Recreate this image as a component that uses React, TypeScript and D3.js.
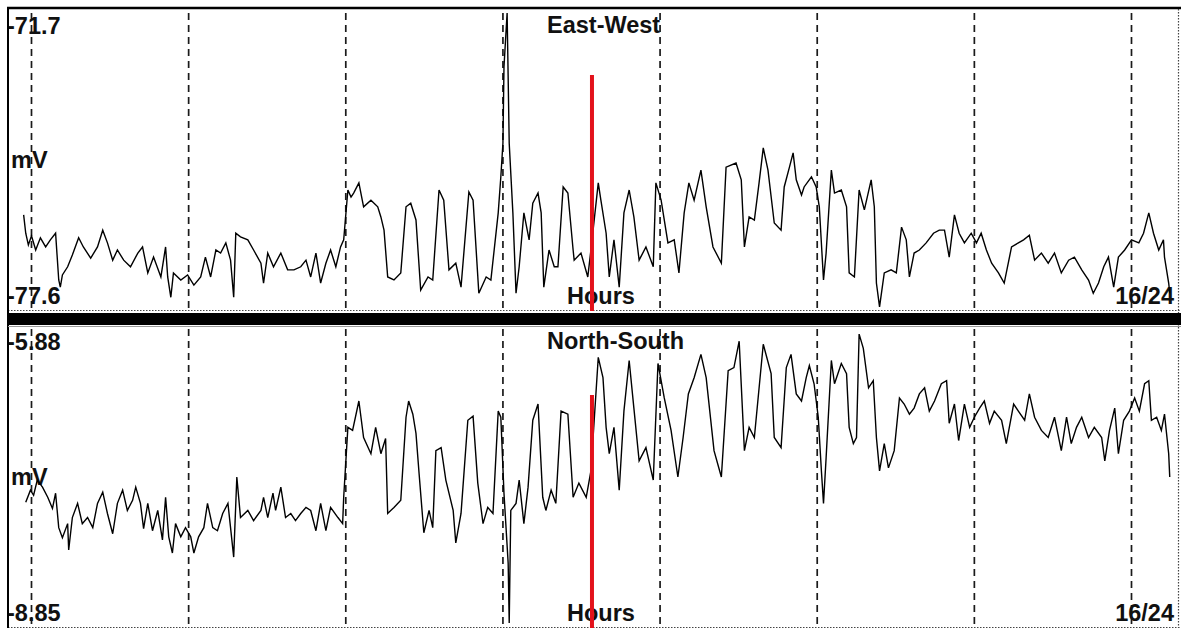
import React from 'react';
import * as d3 from 'd3';

// shared x axis (hours from the first grid line)
const gridHours = [0, 3, 6, 9, 12, 15, 18, 21];
const hourDomain = [0, 21];
const markerHour = 10.7;
const xLabel = 'Hours';
const dayLabel = '16/24';
const unitLabel = 'mV';

// East-West channel
const ewTitle = 'East-West';
const ewScale = [-77.6, -71.7];
const ewMarkerTop = -72.98;
const ewHours = [
  -0.15, -0.11, -0.06, 0, 0.08, 0.17, 0.27, 0.36, 0.46, 0.52, 0.55, 0.59, 0.69, 0.78, 0.9, 0.99, 1.13, 1.26, 1.36, 1.45,
  1.55, 1.64, 1.76, 1.89, 2.03, 2.12, 2.22, 2.33, 2.47, 2.56, 2.6, 2.66, 2.71, 2.85, 2.98, 3.1, 3.23, 3.32, 3.42, 3.52,
  3.61, 3.71, 3.8, 3.86, 3.9, 3.99, 4.13, 4.24, 4.38, 4.43, 4.51, 4.62, 4.76, 4.89, 5.01, 5.14, 5.24, 5.33, 5.43, 5.52,
  5.62, 5.71, 5.81, 5.9, 5.96, 6.04, 6.1, 6.15, 6.25, 6.34, 6.48, 6.61, 6.67, 6.73, 6.8, 6.92, 7.05, 7.15, 7.24, 7.34,
  7.43, 7.57, 7.66, 7.78, 7.87, 7.97, 8.1, 8.2, 8.35, 8.43, 8.54, 8.68, 8.77, 8.91, 8.96, 9.0, 9.02, 9.08, 9.12, 9.19,
  9.25, 9.31, 9.4, 9.5, 9.57, 9.67, 9.73, 9.78, 9.88, 9.98, 10.05, 10.15, 10.24, 10.34, 10.36, 10.49, 10.62, 10.68, 10.82, 10.87,
  10.97, 11.03, 11.12, 11.22, 11.31, 11.41, 11.5, 11.6, 11.73, 11.87, 11.92, 12.02, 12.15, 12.27, 12.36, 12.46, 12.55, 12.65, 12.78, 12.88,
  13.01, 13.17, 13.26, 13.45, 13.55, 13.61, 13.7, 13.8, 13.89, 13.97, 14.06, 14.18, 14.31, 14.37, 14.47, 14.54, 14.6, 14.7, 14.75, 14.89,
  14.98, 15.04, 15.12, 15.17, 15.27, 15.33, 15.46, 15.56, 15.61, 15.71, 15.8, 15.9, 16.03, 16.09, 16.13, 16.19, 16.28, 16.41, 16.51, 16.61,
  16.7, 16.76, 16.85, 16.95, 17.08, 17.22, 17.33, 17.43, 17.52, 17.62, 17.71, 17.81, 17.94, 18.04, 18.13, 18.23, 18.33, 18.46, 18.57, 18.71,
  18.84, 18.94, 19.05, 19.15, 19.28, 19.41, 19.53, 19.66, 19.8, 19.91, 20.05, 20.18, 20.27, 20.37, 20.47, 20.56, 20.66, 20.75, 20.87, 21.0,
  21.14, 21.23, 21.33, 21.42, 21.52, 21.61, 21.63, 21.71, 21.73,
];
const ewMv = [
  -75.73, -76.09, -76.32, -76.14, -76.42, -76.18, -76.36, -76.22, -76.09, -77.01, -77.15, -76.91, -76.75, -76.52, -76.18, -76.36, -76.58, -76.36, -76.03, -76.28,
  -76.62, -76.42, -76.62, -76.75, -76.48, -76.36, -76.87, -76.56, -76.95, -76.36, -76.95, -77.35, -76.87, -77.01, -76.91, -77.11, -76.95, -76.56, -76.95, -76.42,
  -76.48, -76.28, -76.62, -77.35, -76.09, -76.16, -76.22, -76.42, -76.68, -77.07, -76.48, -76.75, -76.48, -76.81, -76.81, -76.75, -76.62, -76.95, -76.48, -77.07,
  -76.68, -76.42, -76.75, -76.36, -76.22, -75.24, -75.38, -75.3, -75.1, -75.57, -75.44, -75.57, -75.77, -76.03, -76.95, -77.01, -76.87, -75.57, -75.5, -75.83,
  -77.21, -76.95, -77.01, -75.24, -75.44, -76.81, -76.68, -77.15, -75.28, -75.44, -77.27, -76.95, -77.01, -75.69, -74.98, -74.32, -72.82, -71.76, -74.32, -75.69,
  -77.27, -76.75, -75.69, -76.22, -75.5, -75.3, -75.69, -77.15, -76.42, -76.75, -76.75, -75.18, -75.3, -76.42, -76.62, -76.48, -76.95, -76.42, -75.1, -75.44,
  -76.09, -76.95, -76.22, -77.15, -75.69, -75.24, -75.77, -76.62, -76.36, -76.75, -75.1, -75.44, -76.28, -76.22, -76.87, -75.69, -75.1, -75.44, -74.85, -75.57,
  -76.36, -76.68, -74.79, -74.71, -75.04, -76.36, -75.77, -75.83, -75.1, -74.41, -74.85, -75.89, -76.03, -75.18, -74.79, -74.51, -75.04, -75.34, -75.18, -74.98,
  -75.18, -75.57, -77.01, -76.48, -74.85, -75.3, -75.24, -75.57, -76.87, -76.95, -75.24, -75.63, -75.04, -75.57, -77.07, -77.54, -76.87, -76.81, -76.87, -75.97,
  -76.22, -76.95, -76.48, -76.42, -76.28, -76.09, -76.03, -76.03, -76.56, -75.73, -76.09, -76.28, -76.09, -76.28, -76.09, -76.42, -76.68, -76.87, -77.07, -76.36,
  -76.28, -76.22, -76.13, -76.62, -76.48, -76.68, -76.48, -76.87, -76.62, -76.56, -76.81, -77.01, -77.27, -77.07, -76.75, -76.56, -77.15, -76.56, -76.42, -76.22,
  -76.28, -76.09, -75.69, -76.09, -76.42, -76.22, -76.56, -77.07, -77.27,
];

// North-South channel
const nsTitle = 'North-South';
const nsScale = [-8.85, -5.88];
const nsMarkerTop = -6.56;
const nsHours = [
  -0.11, -0.02, 0.04, 0.11, 0.21, 0.31, 0.4, 0.46, 0.52, 0.59, 0.69, 0.71, 0.78, 0.88, 0.97, 1.07, 1.17, 1.26, 1.36, 1.45,
  1.55, 1.64, 1.74, 1.83, 1.93, 1.99, 2.08, 2.14, 2.22, 2.31, 2.41, 2.5, 2.56, 2.62, 2.69, 2.75, 2.85, 2.94, 3.04, 3.1,
  3.19, 3.29, 3.36, 3.46, 3.55, 3.65, 3.75, 3.8, 3.86, 3.92, 3.99, 4.13, 4.24, 4.38, 4.43, 4.51, 4.61, 4.66, 4.76, 4.85,
  4.95, 5.04, 5.14, 5.24, 5.33, 5.43, 5.52, 5.62, 5.71, 5.85, 5.94, 5.96, 6.04, 6.13, 6.25, 6.34, 6.48, 6.57, 6.67, 6.76,
  6.8, 6.92, 7.05, 7.15, 7.2, 7.28, 7.34, 7.4, 7.49, 7.59, 7.66, 7.72, 7.82, 7.91, 8.05, 8.1, 8.2, 8.33, 8.43, 8.52,
  8.62, 8.71, 8.81, 8.91, 8.96, 9.02, 9.1, 9.12, 9.15, 9.25, 9.31, 9.4, 9.48, 9.57, 9.67, 9.76, 9.82, 9.92, 10.01, 10.11,
  10.24, 10.34, 10.45, 10.59, 10.68, 10.82, 10.91, 10.97, 11.03, 11.12, 11.22, 11.31, 11.41, 11.5, 11.6, 11.73, 11.87, 11.96, 12.08, 12.21,
  12.34, 12.44, 12.54, 12.65, 12.78, 12.88, 13.03, 13.17, 13.3, 13.41, 13.51, 13.61, 13.7, 13.8, 13.97, 14.12, 14.18, 14.31, 14.41, 14.5,
  14.6, 14.7, 14.79, 14.85, 14.94, 15.02, 15.08, 15.12, 15.17, 15.27, 15.33, 15.46, 15.56, 15.61, 15.69, 15.75, 15.8, 15.88, 15.98, 16.07,
  16.13, 16.19, 16.28, 16.36, 16.47, 16.57, 16.66, 16.76, 16.85, 16.95, 17.05, 17.14, 17.24, 17.37, 17.47, 17.52, 17.62, 17.7, 17.81, 17.91,
  18.0, 18.1, 18.19, 18.29, 18.38, 18.52, 18.61, 18.75, 18.84, 18.96, 19.05, 19.15, 19.28, 19.41, 19.53, 19.66, 19.76, 19.85, 19.95, 20.05,
  20.18, 20.29, 20.43, 20.49, 20.58, 20.68, 20.75, 20.85, 20.96, 21.06, 21.15, 21.25, 21.33, 21.38, 21.48, 21.57, 21.63, 21.71, 21.73,
];
const nsMv = [
  -7.62, -7.5, -7.55, -7.4, -7.47, -7.57, -7.68, -7.53, -7.87, -7.97, -7.83, -8.09, -7.77, -7.63, -7.83, -7.77, -7.87, -7.63, -7.52, -7.73,
  -7.93, -7.63, -7.5, -7.7, -7.6, -7.47, -7.63, -7.88, -7.63, -7.9, -7.7, -7.99, -7.57, -7.96, -8.12, -7.83, -7.96, -7.87, -7.96, -8.12,
  -7.96, -7.87, -7.63, -7.87, -7.9, -7.73, -7.63, -7.87, -8.16, -7.37, -7.77, -7.7, -7.8, -7.7, -7.57, -7.77, -7.53, -7.7, -7.47, -7.77,
  -7.73, -7.8, -7.73, -7.67, -7.7, -7.9, -7.63, -7.9, -7.67, -7.77, -7.83, -7.57, -6.88, -6.91, -6.62, -6.98, -7.14, -6.88, -7.14, -6.99,
  -7.73, -7.67, -7.6, -6.78, -6.62, -6.75, -6.94, -7.34, -7.92, -7.7, -7.87, -7.11, -7.08, -7.4, -7.7, -8.02, -7.73, -6.81, -6.77, -7.43,
  -7.83, -7.67, -7.73, -6.72, -6.78, -7.53, -8.22, -8.81, -7.7, -7.63, -7.4, -7.83, -7.47, -6.81, -6.65, -7.57, -7.7, -7.5, -7.63, -6.72,
  -6.75, -7.57, -7.43, -7.57, -7.31, -6.19, -6.39, -6.88, -7.14, -6.88, -7.5, -6.72, -6.22, -6.69, -7.21, -7.08, -7.4, -6.25, -6.59, -6.91,
  -7.37, -6.98, -6.55, -6.39, -6.16, -6.39, -7.11, -7.37, -6.32, -6.29, -6.03, -7.11, -6.88, -6.98, -6.06, -6.35, -6.98, -7.08, -6.29, -6.16,
  -6.55, -6.62, -6.39, -6.27, -6.45, -6.78, -7.31, -7.63, -7.18, -6.22, -6.45, -6.25, -6.35, -6.88, -7.04, -6.98, -5.96, -6.1, -6.49, -6.42,
  -6.98, -7.31, -7.04, -7.28, -7.11, -6.59, -6.65, -6.75, -6.69, -6.55, -6.49, -6.72, -6.62, -6.45, -6.42, -6.84, -6.65, -7.01, -6.65, -6.88,
  -6.78, -6.69, -6.62, -6.84, -6.72, -6.81, -7.04, -6.65, -6.72, -6.81, -6.55, -6.78, -6.91, -6.98, -6.78, -7.11, -6.78, -7.04, -6.88, -6.78,
  -6.98, -6.88, -6.98, -7.21, -6.91, -6.69, -7.14, -6.81, -6.72, -6.59, -6.72, -6.45, -6.42, -6.81, -6.78, -6.91, -6.75, -7.14, -7.37,
];

const W = 1181;
const H = 630;
const FRAME_L = 8;
const FRAME_R = 1178.5;
const font = {
  fontFamily: '"Liberation Sans", Arial, sans-serif',
  fontWeight: 700,
  fontSize: 23.5,
  fill: '#111',
};

const x = d3.scaleLinear().domain(hourDomain).range([31.5, 1131.5]);

function Panel({ top, bottom, title, scale, hours, values, markerTop }) {
  const y = d3.scaleLinear().domain(scale).range([bottom, top]);
  const pts = hours.map((h, i) => [h, values[i]]);
  const line = d3
    .line()
    .x((d) => x(d[0]))
    .y((d) => y(d[1]));

  return (
    <g>
      {gridHours.map((h) => (
        <line
          key={h}
          x1={x(h)}
          x2={x(h)}
          y1={top + 3}
          y2={bottom}
          stroke="#1a1a1a"
          strokeWidth={1.7}
          strokeDasharray="7,5"
        />
      ))}
      {/* dotted lower edge */}
      <line x1={FRAME_L} x2={W} y1={bottom + 0.5} y2={bottom + 0.5} stroke="#444" strokeWidth={1.2} strokeDasharray="1.5,1.5" />

      <text x={7} y={top + 24} style={font}>{String(scale[1])}</text>
      <text x={11} y={(top + bottom) / 2 + 8} style={font}>{unitLabel}</text>
      <text x={7} y={bottom - 6} style={font}>{String(scale[0])}</text>
      <text x={547} y={top + 23} style={font}>{title}</text>
      <text x={567} y={bottom - 6} style={font}>{xLabel}</text>
      <text x={1174} y={bottom - 6} textAnchor="end" style={font}>{dayLabel}</text>

      <path d={line(pts)} fill="none" stroke="#000" strokeWidth={1.4} />

      <line
        x1={x(markerHour)}
        x2={x(markerHour)}
        y1={y(markerTop)}
        y2={bottom + 1}
        stroke="#e3121b"
        strokeWidth={4}
      />
    </g>
  );
}

export default function App() {
  return (
    <svg width={W} height={H} style={{ position: 'absolute', left: 0, top: 0, background: '#fff' }}>
      <rect x={0} y={0} width={W} height={H} fill="#fff" />
      <Panel top={10} bottom={310} title={ewTitle} scale={ewScale} hours={ewHours} values={ewMv} markerTop={ewMarkerTop} />
      <Panel top={326} bottom={627} title={nsTitle} scale={nsScale} hours={nsHours} values={nsMv} markerTop={nsMarkerTop} />

      {/* frame */}
      <line x1={7} x2={W} y1={8} y2={8} stroke="#000" strokeWidth={2.5} />
      <line x1={FRAME_L} x2={FRAME_L} y1={8} y2={628} stroke="#000" strokeWidth={2} />
      <line x1={FRAME_R} x2={FRAME_R} y1={9} y2={628} stroke="#444" strokeWidth={1.2} strokeDasharray="1.5,1.5" />
      <rect x={7} y={313} width={W - 7} height={12} fill="#000" />
      <line x1={FRAME_L} x2={W} y1={326.5} y2={326.5} stroke="#999" strokeWidth={1} />
    </svg>
  );
}
